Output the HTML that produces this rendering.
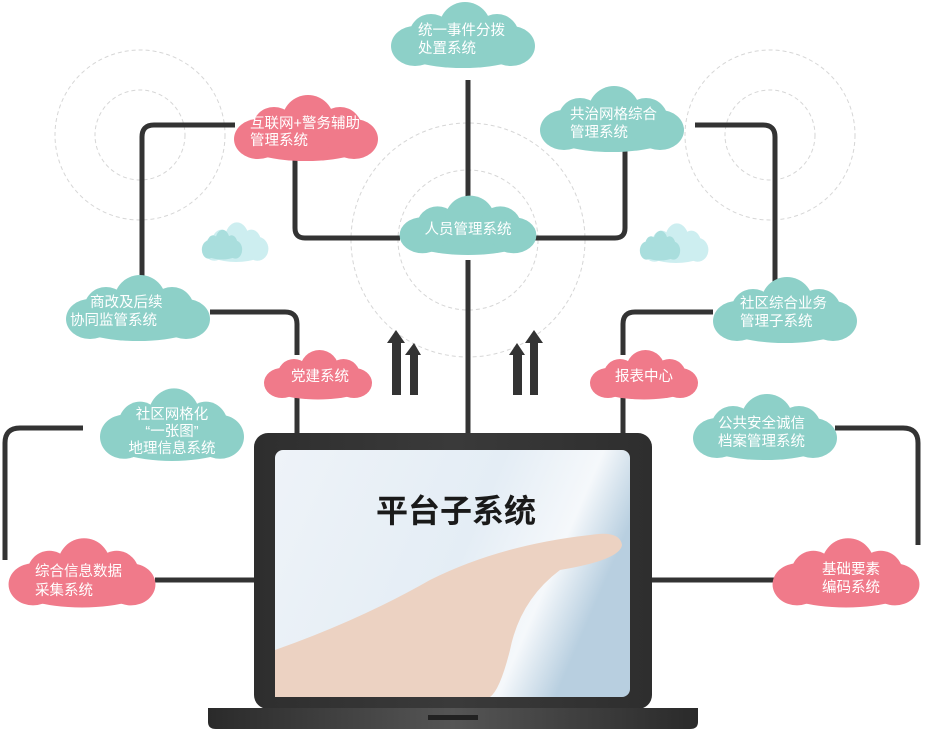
<!DOCTYPE html>
<html><head><meta charset="utf-8"><style>
body{margin:0;background:#fff;}
svg{display:block}
text{font-family:"Liberation Sans","Noto Sans CJK SC",sans-serif;fill:#fff;font-size:14.5px;text-anchor:start}
.c{text-anchor:middle}
</style></head><body>
<svg width="934" height="740" viewBox="0 0 934 740" xmlns="http://www.w3.org/2000/svg">
<defs>
<linearGradient id="scr" x1="0" y1="0" x2="1" y2="0.3">
<stop offset="0" stop-color="#eef3f8"/><stop offset="0.6" stop-color="#e4edf5"/><stop offset="0.85" stop-color="#f5f8fb"/><stop offset="1" stop-color="#b8cfe0"/></linearGradient>
<linearGradient id="body" x1="0" y1="0" x2="1" y2="0">
<stop offset="0" stop-color="#2e2e2e"/><stop offset="0.5" stop-color="#3a3a3a"/><stop offset="1" stop-color="#2e2e2e"/></linearGradient>
<linearGradient id="base" x1="0" y1="0" x2="1" y2="0">
<stop offset="0" stop-color="#2a2a2a"/><stop offset="0.5" stop-color="#555"/><stop offset="1" stop-color="#2a2a2a"/></linearGradient>
<g id="cloud"><ellipse cx="0" cy="8" rx="70" ry="22"/><circle cx="-32" cy="-2" r="22"/><circle cx="2" cy="-10" r="26"/><circle cx="34" cy="-2" r="22"/><ellipse cx="-48" cy="8" rx="24" ry="20"/><ellipse cx="48" cy="8" rx="24" ry="20"/></g>
</defs>
<g fill="none" stroke="#d6d6d6" stroke-dasharray="4 3" stroke-width="1">
<circle cx="140" cy="135" r="85"/><circle cx="140" cy="135" r="45"/>
<circle cx="468" cy="240" r="117"/><circle cx="468" cy="240" r="70"/>
<circle cx="770" cy="135" r="85"/><circle cx="770" cy="135" r="45"/>
</g>
<g fill="none" stroke="#333" stroke-width="5">
<path d="M468 80V200M468 260V433"/>
<path d="M295 158V228Q295 238 305 238H400"/>
<path d="M625 150V228Q625 238 615 238H535"/>
<path d="M142 280V137Q142 125 154 125H235"/>
<path d="M775 283V137Q775 125 763 125H695"/>
<path d="M210 312H285Q297 312 297 324V355M297 395V433"/>
<path d="M713 312H635Q623 312 623 324V355M623 395V433"/>
<path d="M83 428H20Q5 428 5 443V560"/>
<path d="M835 428H903Q918 428 918 443V545"/>
<path d="M155 580H255M652 580H775"/>
</g>
<g fill="#333">
<path d="M392 395V343H387L396 330L405 343H401V395Z"/>
<path d="M410 395V355H405L414 343L421 355H418V395Z"/>
<path d="M513 395V355H509L517 343L525 355H522V395Z"/>
<path d="M530 395V343H525L534 330L543 343H538V395Z"/>
</g>
<g fill="#cdeef0"><use href="#cloud" transform="translate(236,244) scale(0.45,0.6)"/><use href="#cloud" transform="translate(676,245) scale(0.45,0.6)"/></g>
<g fill="#a9dedd"><use href="#cloud" transform="translate(222,246) scale(0.28,0.45)"/><use href="#cloud" transform="translate(660,247) scale(0.28,0.45)"/></g>
<g fill="#8dd0c8">
<use href="#cloud" transform="translate(463,38) scale(1.0,1.0)"/>
<use href="#cloud" transform="translate(612,122) scale(1.0,1.0)"/>
<use href="#cloud" transform="translate(468,228) scale(0.95,0.9)"/>
<use href="#cloud" transform="translate(138,311) scale(1.0,1.0)"/>
<use href="#cloud" transform="translate(785,313) scale(1.0,1.0)"/>
<use href="#cloud" transform="translate(172,428) scale(1.0,1.1)"/>
<use href="#cloud" transform="translate(765,430) scale(1.0,1.0)"/>
</g>
<g fill="#f07a8a">
<use href="#cloud" transform="translate(306,131) scale(1.0,1.0)"/>
<use href="#cloud" transform="translate(318,377) scale(0.75,0.75)"/>
<use href="#cloud" transform="translate(644,377) scale(0.75,0.75)"/>
<use href="#cloud" transform="translate(82,576) scale(1.02,1.05)"/>
<use href="#cloud" transform="translate(846,576) scale(1.02,1.05)"/>
</g>
<text x="418" y="35">统一事件分拨</text><text x="418" y="53">处置系统</text>
<text x="250" y="128">互联网+警务辅助</text><text x="250" y="145">管理系统</text>
<text x="570" y="119">共治网格综合</text><text x="570" y="137">管理系统</text>
<text x="468" y="234" class="c">人员管理系统</text>
<text x="90" y="307">商改及后续</text><text x="70" y="325">协同监管系统</text>
<text x="740" y="308">社区综合业务</text><text x="740" y="326">管理子系统</text>
<text x="320" y="381" class="c">党建系统</text>
<text x="644" y="381" class="c">报表中心</text>
<g style="font-size:11px"><text class="c" x="172" y="419">社区网格化</text><text class="c" x="172" y="436">“一张图”</text><text class="c" x="172" y="453">地理信息系统</text></g>
<text x="718" y="428">公共安全诚信</text><text x="718" y="446">档案管理系统</text>
<text x="35" y="576">综合信息数据</text><text x="35" y="595">采集系统</text>
<text x="822" y="574">基础要素</text><text x="822" y="592">编码系统</text>
<rect x="254" y="433" width="398" height="276" rx="14" fill="url(#body)"/>
<rect x="275" y="450" width="355" height="247" rx="8" fill="url(#scr)"/>
<path d="M275 650Q360 620 430 580Q500 545 590 535Q620 530 622 545Q620 560 560 570Q520 600 510 650Q500 690 490 697H275Z" fill="#ecd2c2"/>
<text x="456" y="522" class="c" style="fill:#1a1a1a;font-size:32px;font-weight:bold">平台子系统</text>
<path d="M208 708H698V722Q698 729 690 729H216Q208 729 208 722Z" fill="url(#base)"/>
<rect x="428" y="715" width="50" height="5" fill="#222"/>
</svg>
</body></html>
